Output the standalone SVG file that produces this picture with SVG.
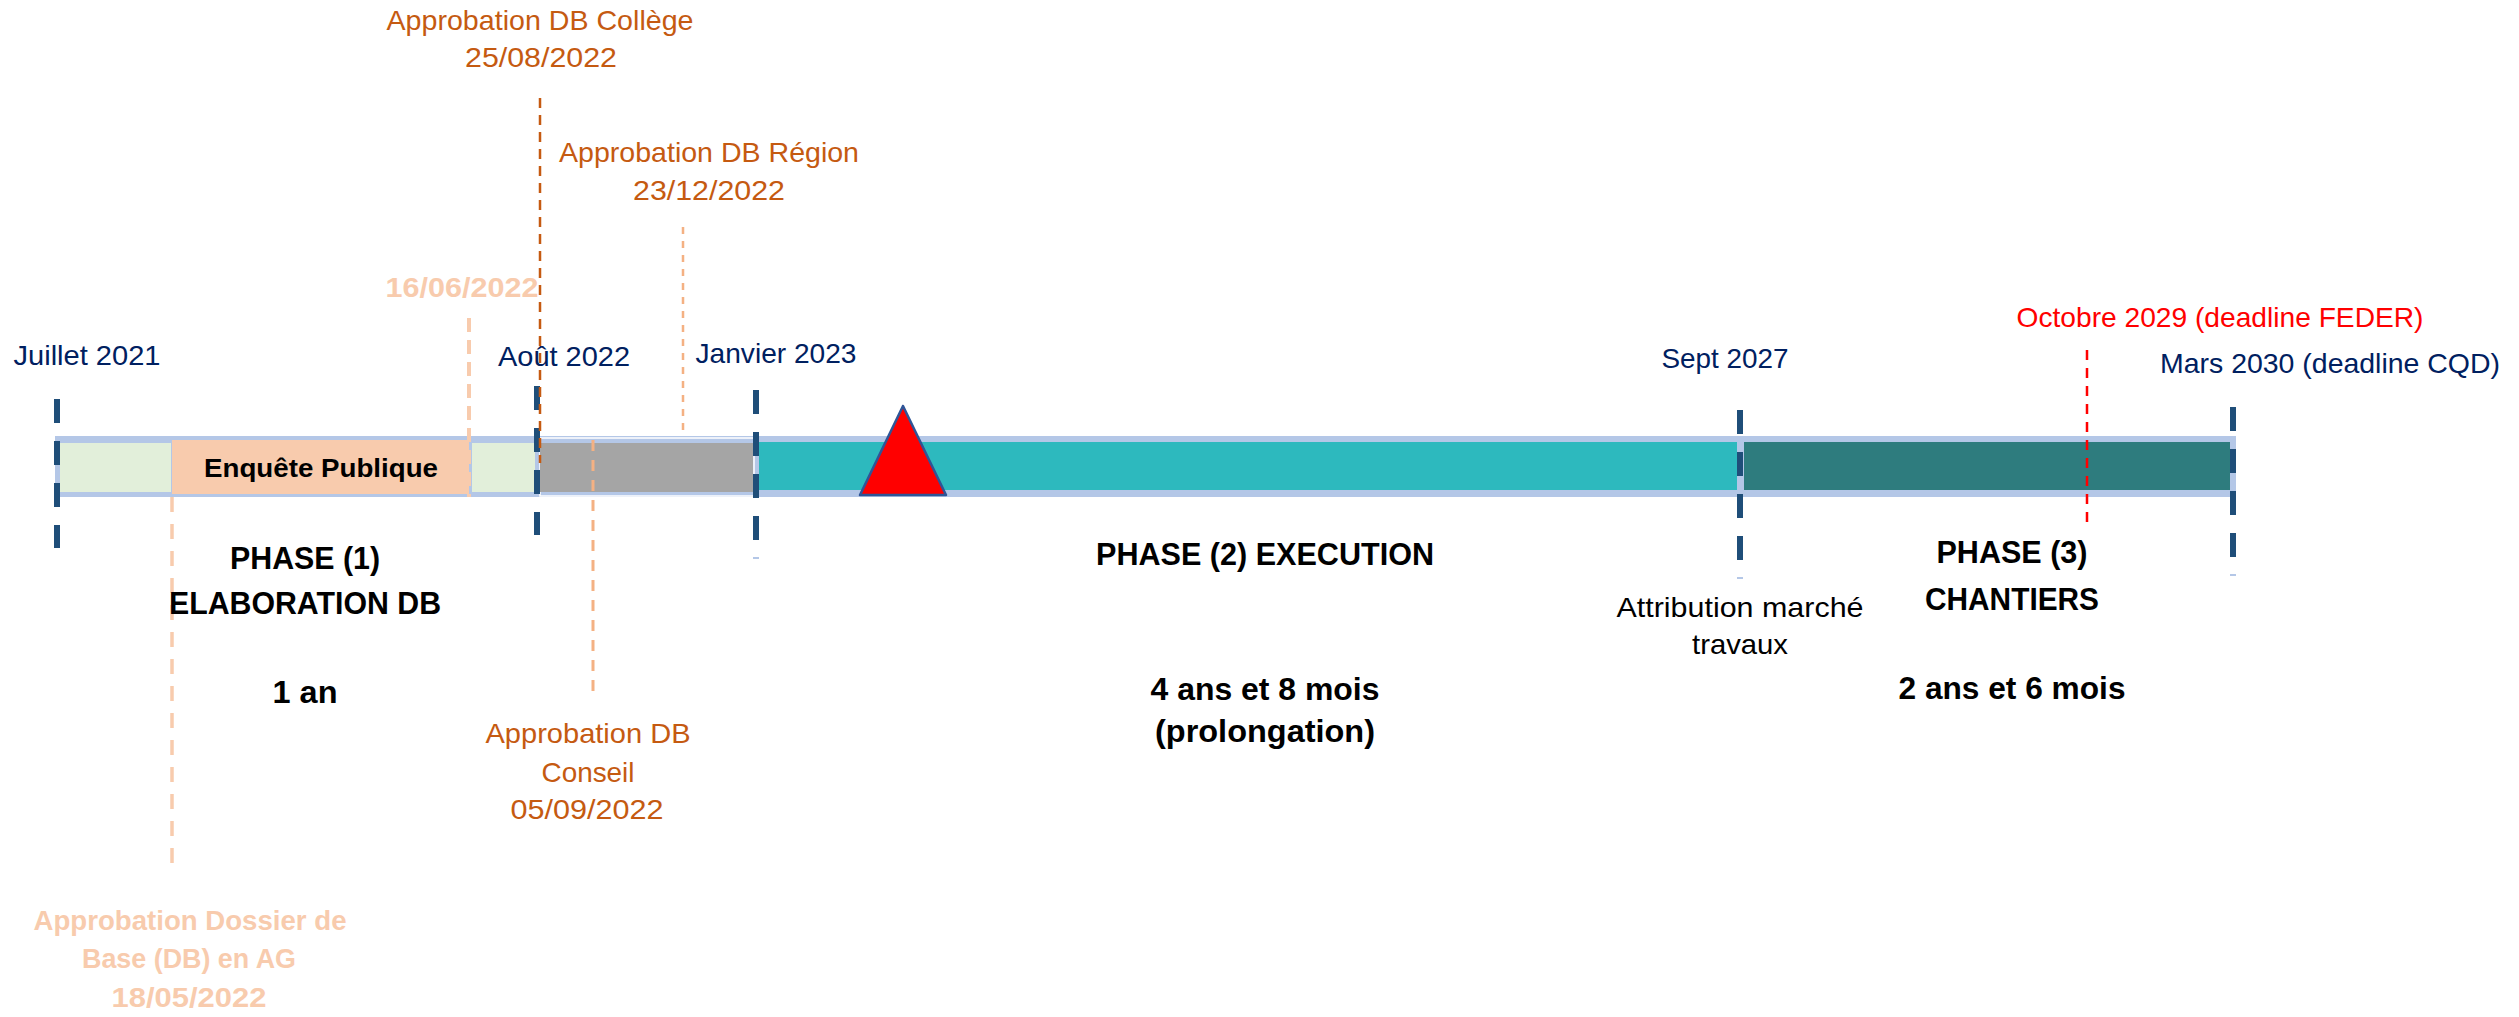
<svg xmlns="http://www.w3.org/2000/svg" width="2519" height="1017" viewBox="0 0 2519 1017">
<style>
text{font-family:"Liberation Sans",Arial,sans-serif;text-anchor:middle}
.nav{fill:#002060;font-size:28px}
.org{fill:#C55A11;font-size:28px}
.pch{fill:#F8CBAD;font-size:27px;font-weight:bold}
.blk{fill:#000;font-size:32px;font-weight:bold}
.reg{fill:#000;font-size:28px}
.red{fill:#FF0000;font-size:28px}
.tick{stroke:#1F4E79;stroke-width:6;stroke-dasharray:24 18;fill:none}
.mark{fill:#B4C7E7}
</style>
<rect width="2519" height="1017" fill="#FFFFFF"/>
<g id="bar">
<rect x="55" y="436" width="2181" height="61" fill="#B4C7E7"/>
<rect x="60" y="443" width="111" height="49" fill="#E2EFDA"/>
<rect x="472" y="443" width="63" height="49" fill="#E2EFDA"/>
<rect x="540" y="438" width="214" height="58" fill="none" stroke="#FFFFFF" stroke-width="1.5"/>
<rect x="540" y="443" width="213" height="49" fill="#A5A5A5"/>
<rect x="759" y="442" width="978" height="48" fill="#2DB9BE"/>
<rect x="1744" y="442" width="486" height="48" fill="#2E7C7E"/>
</g>
<g id="enquete">
<rect x="172" y="440" width="297" height="54" fill="#F8CBAD"/>
<text x="321" y="477" style="font-size:26px;font-weight:bold" textLength="234" lengthAdjust="spacingAndGlyphs">Enquête Publique</text>
</g>
<g id="ticks">
<line class="tick" x1="57" y1="399" x2="57" y2="548"/>
<line class="tick" x1="537" y1="386" x2="537" y2="535"/>
<line class="tick" x1="756" y1="390" x2="756" y2="540"/>
<line class="tick" x1="1740" y1="410" x2="1740" y2="560"/>
<line class="tick" x1="2233" y1="407" x2="2233" y2="557"/>
<rect class="mark" x="753" y="557" width="6" height="2"/>
<rect class="mark" x="1737" y="577" width="6" height="2"/>
<rect class="mark" x="2230" y="574" width="6" height="2"/>
</g>
<g id="connectors" fill="none">
<line x1="469" y1="318" x2="469" y2="497" stroke="#F8CBAD" stroke-width="4" stroke-dasharray="14 8"/>
<line x1="172" y1="497" x2="172" y2="873" stroke="#F8CBAD" stroke-width="3.5" stroke-dasharray="15 12"/>
<line x1="540" y1="98" x2="540" y2="463" stroke="#C55A11" stroke-width="2.5" stroke-dasharray="10 7"/>
<line x1="683" y1="227" x2="683" y2="433" stroke="#F4B183" stroke-width="2.5" stroke-dasharray="7 7"/>
<line x1="593" y1="440" x2="593" y2="693" stroke="#F4B183" stroke-width="3" stroke-dasharray="11 9"/>
<line x1="2087" y1="350" x2="2087" y2="530" stroke="#FF0000" stroke-width="2.5" stroke-dasharray="10 8"/>
</g>
<g id="triangle">
<polygon points="903,406 860,495 946,495" fill="#FF0000" stroke="#2F5597" stroke-width="2.5" stroke-linejoin="round"/>
</g>
<g id="label-juillet"><text class="nav" x="87" y="365" textLength="147" lengthAdjust="spacingAndGlyphs">Juillet 2021</text></g>
<g id="label-aout"><text class="nav" x="564" y="366" textLength="132" lengthAdjust="spacingAndGlyphs">Août 2022</text></g>
<g id="label-janvier"><text class="nav" x="776" y="363" textLength="161" lengthAdjust="spacingAndGlyphs">Janvier 2023</text></g>
<g id="label-sept"><text class="nav" x="1725" y="368" textLength="127" lengthAdjust="spacingAndGlyphs">Sept 2027</text></g>
<g id="label-mars"><text class="nav" x="2330" y="373" textLength="340" lengthAdjust="spacingAndGlyphs">Mars 2030 (deadline CQD)</text></g>
<g id="label-octobre"><text class="red" x="2220" y="327" textLength="407" lengthAdjust="spacingAndGlyphs">Octobre 2029 (deadline FEDER)</text></g>
<g id="label-college">
<text class="org" x="540" y="30" textLength="307" lengthAdjust="spacingAndGlyphs">Approbation DB Collège</text>
<text class="org" x="541" y="67" textLength="152" lengthAdjust="spacingAndGlyphs">25/08/2022</text>
</g>
<g id="label-region">
<text class="org" x="709" y="162" textLength="300" lengthAdjust="spacingAndGlyphs">Approbation DB Région</text>
<text class="org" x="709" y="200" textLength="152" lengthAdjust="spacingAndGlyphs">23/12/2022</text>
</g>
<g id="label-1606"><text class="pch" x="462" y="297" style="font-size:28px" textLength="153" lengthAdjust="spacingAndGlyphs">16/06/2022</text></g>
<g id="label-conseil">
<text class="org" x="588" y="743" textLength="205" lengthAdjust="spacingAndGlyphs">Approbation DB</text>
<text class="org" x="588" y="782" textLength="93" lengthAdjust="spacingAndGlyphs">Conseil</text>
<text class="org" x="587" y="819" textLength="153" lengthAdjust="spacingAndGlyphs">05/09/2022</text>
</g>
<g id="label-ag">
<text class="pch" x="190" y="930" textLength="313" lengthAdjust="spacingAndGlyphs">Approbation Dossier de</text>
<text class="pch" x="189" y="968" textLength="214" lengthAdjust="spacingAndGlyphs">Base (DB) en AG</text>
<text class="pch" x="189" y="1007" textLength="155" lengthAdjust="spacingAndGlyphs">18/05/2022</text>
</g>
<g id="phase1">
<text class="blk" x="305" y="569" textLength="150" lengthAdjust="spacingAndGlyphs">PHASE (1)</text>
<text class="blk" x="305" y="614" textLength="272" lengthAdjust="spacingAndGlyphs">ELABORATION DB</text>
<text class="blk" x="305" y="703" textLength="65" lengthAdjust="spacingAndGlyphs">1 an</text>
</g>
<g id="phase2">
<text class="blk" x="1265" y="565" textLength="338" lengthAdjust="spacingAndGlyphs">PHASE (2) EXECUTION</text>
<text class="blk" x="1265" y="700" textLength="229" lengthAdjust="spacingAndGlyphs">4 ans et 8 mois</text>
<text class="blk" x="1265" y="742" textLength="220" lengthAdjust="spacingAndGlyphs">(prolongation)</text>
</g>
<g id="label-attribution">
<text class="reg" x="1740" y="617" textLength="247" lengthAdjust="spacingAndGlyphs">Attribution marché</text>
<text class="reg" x="1740" y="654" textLength="96" lengthAdjust="spacingAndGlyphs">travaux</text>
</g>
<g id="phase3">
<text class="blk" x="2012" y="563" textLength="151" lengthAdjust="spacingAndGlyphs">PHASE (3)</text>
<text class="blk" x="2012" y="610" textLength="174" lengthAdjust="spacingAndGlyphs">CHANTIERS</text>
<text class="blk" x="2012" y="699" textLength="227" lengthAdjust="spacingAndGlyphs">2 ans et 6 mois</text>
</g>
</svg>
